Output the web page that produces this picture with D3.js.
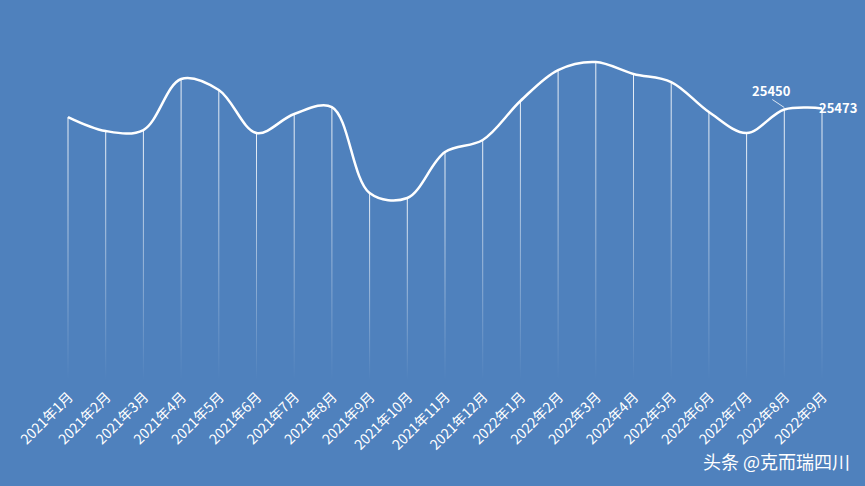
<!DOCTYPE html>
<html>
<head>
<meta charset="utf-8">
<script src="https://cdn.jsdelivr.net/npm/d3@7"></script>
<style>
body { margin: 0; background: #4f81bd; }
text { font-family: "Noto Sans CJK SC", "Noto Sans", sans-serif; }
</style>
</head>
<body>
<div id="chart"></div>
<script>
var months = ["2021年1月","2021年2月","2021年3月","2021年4月","2021年5月","2021年6月","2021年7月",
  "2021年8月","2021年9月","2021年10月","2021年11月","2021年12月","2022年1月","2022年2月",
  "2022年3月","2022年4月","2022年5月","2022年6月","2022年7月","2022年8月","2022年9月"];
var values = [25299, 25017, 25037, 26065, 25843, 24977, 25360, 25500, 23768, 23667, 24594,
  24836, 25622, 26246, 26407, 26166, 26004, 25400, 24977, 25450, 25473];

var w = 865, h = 486;
var svg = d3.select('#chart').append('svg').attr('width', w).attr('height', h);
svg.append('rect').attr('width', w).attr('height', h).attr('fill', '#4f81bd');

var x = d3.scalePoint().domain(months).range([68, 822]);
var y = d3.scaleLinear().domain([20000, 27000]).range([380, 32.6]);

// gradient for drop lines
var grad = svg.append('defs').append('linearGradient').attr('id', 'fade')
  .attr('x1', 0).attr('y1', 0).attr('x2', 0).attr('y2', 1);
grad.append('stop').attr('offset', '0%').attr('stop-color', '#fff').attr('stop-opacity', 0.9);
grad.append('stop').attr('offset', '100%').attr('stop-color', '#fff').attr('stop-opacity', 0);

svg.selectAll('rect.drop').data(values).enter().append('rect').attr('class', 'drop')
  .attr('x', function(d, i) { return x(months[i]) - 0.5; })
  .attr('y', function(d) { return y(d); })
  .attr('width', 1)
  .attr('height', function(d) { return 380 - y(d); })
  .attr('fill', 'url(#fade)');

var line = d3.line()
  .x(function(d, i) { return x(months[i]); })
  .y(function(d) { return y(d); })
  .curve(d3.curveCatmullRom.alpha(0.5));
svg.append('path').datum(values).attr('d', line)
  .attr('fill', 'none').attr('stroke', '#fff').attr('stroke-width', 2.5);

// x labels
svg.selectAll('text.xl').data(months).enter().append('text').attr('class', 'xl')
  .attr('transform', function(d) { return 'translate(' + (x(d) + 6) + ',398) rotate(-45)'; })
  .attr('text-anchor', 'end').attr('fill', '#fff').attr('font-size', 14)
  .text(function(d) { return d; });

// value labels
var n = values.length;
var x8 = x(months[n - 2]), y8 = y(values[n - 2]);
svg.append('path').attr('d', 'M' + x8 + ',' + (y8 - 2) + 'L' + (x8 - 12) + ',' + (y8 - 10))
  .attr('stroke', '#fff').attr('stroke-width', 0.8).attr('fill', 'none');
svg.append('text').attr('x', x8 - 13).attr('y', y8 - 14).attr('text-anchor', 'middle')
  .attr('fill', '#fff').attr('font-size', 13).attr('font-weight', 'bold').text(values[n - 2]);
svg.append('text').attr('x', x(months[n - 1]) - 3).attr('y', y(values[n - 1]) + 5)
  .attr('fill', '#fff').attr('font-size', 13).attr('font-weight', 'bold').text(values[n - 1]);

// watermark
svg.append('text').attr('x', 850).attr('y', 469).attr('text-anchor', 'end')
  .attr('fill', '#fff').attr('font-size', 18).text('头条 @克而瑞四川');
</script>
</body>
</html>
